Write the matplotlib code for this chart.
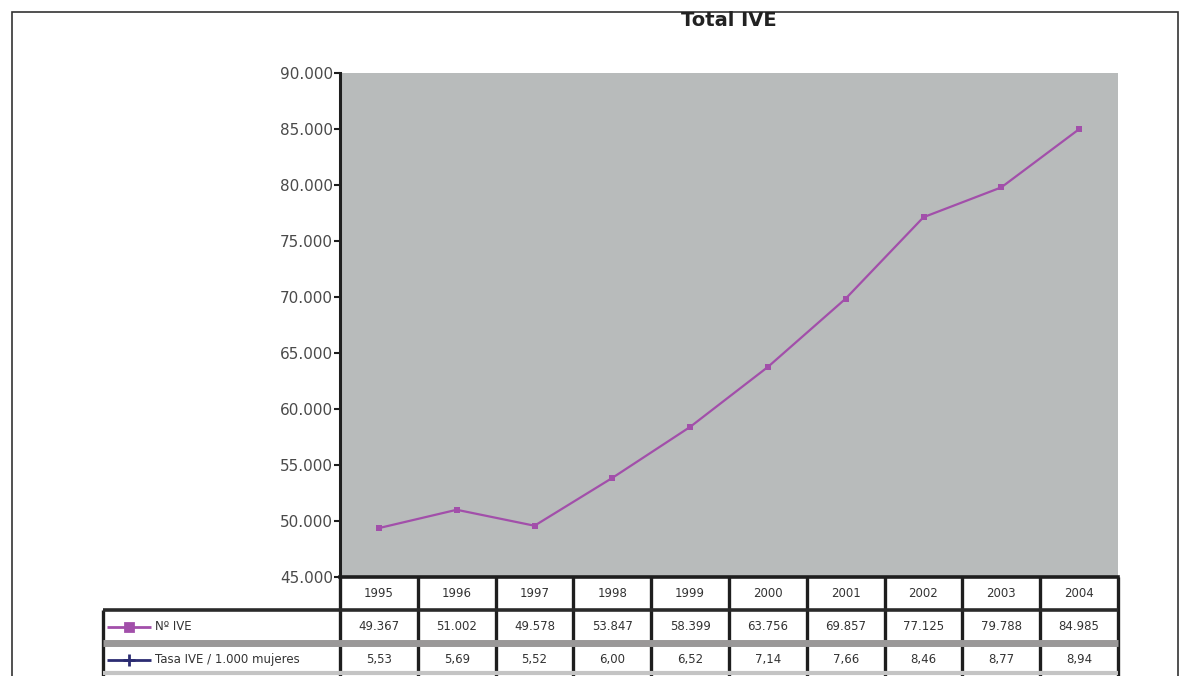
import matplotlib
matplotlib.use("Agg")
import matplotlib.pyplot as plt
import matplotlib.ticker as mticker
from matplotlib.lines import Line2D
from matplotlib.patches import Rectangle

# data (IVE in Spain, 1995-2004)
years = ["1995", "1996", "1997", "1998", "1999", "2000", "2001", "2002", "2003", "2004"]
ive_total = [49367, 51002, 49578, 53847, 58399, 63756, 69857, 77125, 79788, 84985]
ive_rate = [5.53, 5.69, 5.52, 6.00, 6.52, 7.14, 7.66, 8.46, 8.77, 8.94]
row_labels = ["Nº IVE", "Tasa IVE / 1.000 mujeres"]
y_ticks = list(range(45000, 90001, 5000))

MAGENTA = "#A24FAA"
NAVY = "#2B2C72"
PLOT_BG = "#B8BBBB"
DARK = "#1E1E1E"

W, H = 1190, 676
fig = plt.figure(figsize=(W / 100, H / 100), dpi=100)
fig.patch.set_facecolor("white")

# outer frame
fig.add_artist(Rectangle((12 / W, -0.05), (1178 - 12) / W, 1.05 - 12 / H,
                         transform=fig.transFigure, fill=False,
                         edgecolor="#333333", linewidth=1.2))

ax_l, ax_r, ax_t, ax_b = 340, 1118, 73, 577
ax = fig.add_axes([ax_l / W, (H - ax_b) / H, (ax_r - ax_l) / W, (ax_b - ax_t) / H])
ax.set_facecolor(PLOT_BG)

idx = list(range(len(years)))
ax.plot(idx, ive_total, color=MAGENTA, linewidth=1.6, marker="s",
        markersize=4.5, markerfacecolor=MAGENTA, markeredgewidth=0)

ax.set_xlim(-0.5, len(years) - 0.5)
ax.set_ylim(45000, 90000)
ax.set_yticks(y_ticks)
ax.yaxis.set_major_formatter(mticker.FuncFormatter(
    lambda v, _: f"{v:,.0f}".replace(",", ".")))
ax.set_xticks([])
ax.tick_params(axis="y", colors=DARK, labelcolor="#4A4A4A", labelsize=11,
               length=4, width=1.5, pad=1)

for s in ["top", "right"]:
    ax.spines[s].set_visible(False)
ax.spines["left"].set_color(DARK)
ax.spines["left"].set_linewidth(2.2)
ax.spines["bottom"].set_color(DARK)
ax.spines["bottom"].set_linewidth(2.6)

fig.text((ax_l + ax_r) / 2 / W, 1 - 21 / H, "Total IVE", ha="center", va="center",
         fontsize=14, fontweight="bold", color="#222222")

# data table under the plot
plot_w = ax_r - ax_l
label_w = (ax_l - 103) / plot_w
row_h = 33 / (ax_b - ax_t)
n = len(years)

cells = [[""] + years,
         [""] + [f"{v:,.0f}".replace(",", ".") for v in ive_total],
         [""] + [f"{v:.2f}".replace(".", ",") for v in ive_rate]]
col_w = [label_w] + [1 / n] * n
tbl = ax.table(cellText=cells, colWidths=col_w, cellLoc="center",
               bbox=[-label_w, -3 * row_h, 1 + label_w, 3 * row_h])
tbl.auto_set_font_size(False)
for (r, c), cell in tbl.get_celld().items():
    cell.set_edgecolor("none")
    cell.set_facecolor("white")
    cell.get_text().set_fontsize(8.5)
    cell.get_text().set_color("#333333")
    cell.set_clip_on(False)

kw = dict(transform=ax.transAxes, clip_on=False, solid_capstyle="butt")
# vertical grid lines of the table
for i in range(n + 1):
    ax.add_line(Line2D([i / n, i / n], [0, -3 * row_h], color=DARK, linewidth=2.4, **kw))
ax.add_line(Line2D([-label_w, -label_w], [-row_h, -3 * row_h], color=DARK, linewidth=2.4, **kw))
# horizontal lines
ax.add_line(Line2D([-label_w, 1], [-row_h, -row_h], color="#2A2A2A", linewidth=2.6, **kw))
ax.add_line(Line2D([-label_w, 1], [-2 * row_h, -2 * row_h], color="#9A9898", linewidth=5, **kw))
ax.add_line(Line2D([-label_w, 1], [-3 * row_h + 0.006, -3 * row_h + 0.006], color="#C4C4C4", linewidth=3, **kw))

# legend keys and row labels
key_x0 = -label_w + 4 / plot_w
key_x1 = -label_w + 48 / plot_w
for r, (lab, col, mk) in enumerate(zip(row_labels, [MAGENTA, NAVY], ["s", "+"])):
    yc = -(r + 1.5) * row_h
    ax.add_line(Line2D([key_x0, key_x1], [yc, yc], color=col, linewidth=2, **kw))
    ax.add_line(Line2D([(key_x0 + key_x1) / 2], [yc], color=col, marker=mk,
                       markersize=6 if mk == "s" else 9, markeredgewidth=2,
                       linestyle="none", transform=ax.transAxes, clip_on=False))
    ax.text(key_x1 + 4 / plot_w, yc, lab, transform=ax.transAxes, ha="left",
            va="center", fontsize=8.5, color="#333333")

fig.savefig("out.png", dpi=100, facecolor=fig.get_facecolor())
